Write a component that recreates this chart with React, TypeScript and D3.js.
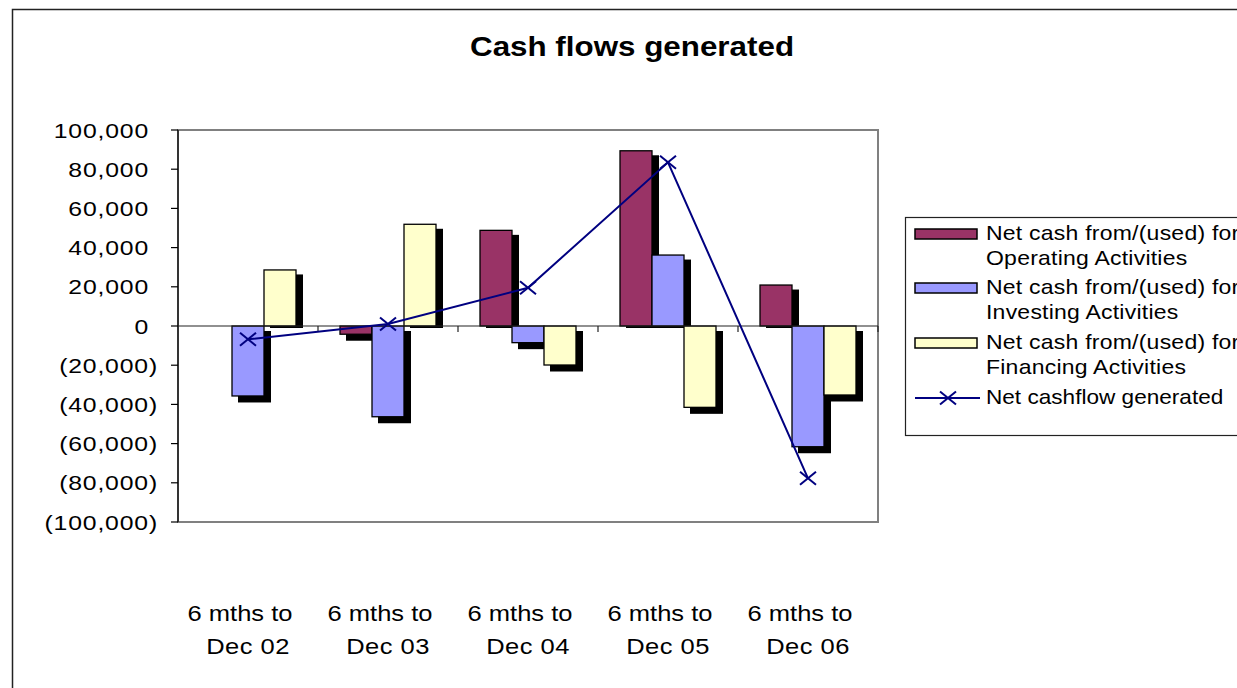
import React from "react";
import * as d3 from "d3";

const categoriesLine1 = ["6 mths to", "6 mths to", "6 mths to", "6 mths to", "6 mths to"];
const categoriesLine2 = ["Dec 02", "Dec 03", "Dec 04", "Dec 05", "Dec 06"];
const operating = [0, -4200, 48800, 89400, 20900];
const investing = [-35700, -46300, -8500, 36200, -61600];
const financing = [28600, 51900, -19900, -41500, -35200];
const netCashflow = [-6800, 1000, 19500, 83500, -77700];
const yTicks = [100000, 80000, 60000, 40000, 20000, 0, -20000, -40000, -60000, -80000, -100000];
const seriesNames = ["Operating", "Investing", "Financing"];
const legendLabels = [
  ["Net cash from/(used) for", "Operating Activities"],
  ["Net cash from/(used) for", "Investing Activities"],
  ["Net cash from/(used) for", "Financing Activities"],
];
const netLabel = "Net cashflow generated";
const title = "Cash flows generated";

const W = 1237;
const H = 688;
const plot = { left: 178, top: 130, right: 878, bottom: 522 };
const colors = ["#993366", "#9999FF", "#FFFFCC"];
const lineColor = "#000080";
const FONT = "'Liberation Sans', Arial, sans-serif";

const fmt = (v: number) => {
  const s = d3.format(",")(Math.abs(v));
  return v < 0 ? `(${s})` : s;
};

function SText({
  x,
  y,
  sx = 1.17,
  size,
  anchor = "start",
  weight = "normal",
  spacing = 0,
  children,
}: {
  x: number;
  y: number;
  sx?: number;
  size: number;
  anchor?: string;
  weight?: string;
  spacing?: number;
  children: React.ReactNode;
}) {
  return (
    <text
      transform={`translate(${x},${y}) scale(${sx},1)`}
      textAnchor={anchor as any}
      fontSize={size}
      fontWeight={weight}
      letterSpacing={spacing}
      fill="#000"
    >
      {children}
    </text>
  );
}

function XMark({ x, y, hw = 8, hh = 6.5 }: { x: number; y: number; hw?: number; hh?: number }) {
  return (
    <g stroke={lineColor} strokeWidth={2}>
      <line x1={x - hw} y1={y - hh} x2={x + hw} y2={y + hh} />
      <line x1={x - hw} y1={y + hh} x2={x + hw} y2={y - hh} />
    </g>
  );
}

export default function App() {
  const x0 = d3
    .scaleBand<number>()
    .domain(d3.range(categoriesLine2.length))
    .range([plot.left, plot.right])
    .paddingInner(0)
    .paddingOuter(0);
  const x1 = d3
    .scaleBand<string>()
    .domain(seriesNames)
    .range([0, x0.bandwidth()])
    .paddingInner(0)
    .paddingOuter(0.6875);
  const y = d3.scaleLinear().domain([-100000, 100000]).range([plot.bottom, plot.top]);

  const seriesData = [operating, investing, financing];
  const bars: { x: number; v: number; yv: number; y0: number; w: number; c: string }[] = [];
  seriesData.forEach((arr, si) => {
    arr.forEach((v, ci) => {
      if (v === 0) return;
      const bx = (x0(ci) as number) + (x1(seriesNames[si]) as number);
      bars.push({ x: bx, v, yv: y(v), y0: y(0), w: x1.bandwidth(), c: colors[si] });
    });
  });

  const line = d3
    .line<number>()
    .x((_, i) => (x0(i) as number) + x0.bandwidth() / 2)
    .y((d) => y(d));

  const legendX = 905;
  const legendY = 217;
  const rowY = [234, 288, 343];

  return (
    <svg
      width={W}
      height={H}
      style={{ position: "absolute", left: 0, top: 0, background: "#fff" }}
      fontFamily={FONT}
    >
      <rect x={0} y={0} width={W} height={H} fill="#fff" />
      {/* outer chart border */}
      <rect x={12.5} y={9.5} width={W + 20} height={H + 20} fill="none" stroke="#222" strokeWidth={1.5} />

      {/* title */}
      <SText x={632} y={56} size={28} sx={1.12} anchor="middle" weight="bold">
        {title}
      </SText>

      {/* plot area border */}
      <rect
        x={plot.left}
        y={plot.top}
        width={plot.right - plot.left}
        height={plot.bottom - plot.top}
        fill="#fff"
        stroke="#808080"
        strokeWidth={2}
      />

      {/* y axis */}
      <line x1={plot.left} y1={plot.top} x2={plot.left} y2={plot.bottom} stroke="#000" strokeWidth={1.2} />
      {yTicks.map((t) => (
        <g key={t}>
          <line x1={plot.left - 7} x2={plot.left} y1={y(t)} y2={y(t)} stroke="#000" strokeWidth={1.2} />
          <SText x={t < 0 ? 158 : 149} y={y(t) + 7.5} size={21} sx={1.18} spacing={0.7} anchor="end">
            {fmt(t)}
          </SText>
        </g>
      ))}

      {/* shadows */}
      {bars.map((b, i) => {
        const top = b.v > 0 ? b.yv + 4.5 : b.y0 + 5;
        const bot = b.v > 0 ? b.y0 + 2 : b.yv + 6.5;
        return <rect key={"s" + i} x={b.x + 6} y={top} width={b.w + 1} height={bot - top} fill="#000" />;
      })}
      {/* bars */}
      {bars.map((b, i) => (
        <rect
          key={"b" + i}
          x={b.x}
          y={Math.min(b.yv, b.y0)}
          width={b.w}
          height={Math.abs(b.yv - b.y0)}
          fill={b.c}
          stroke="#000"
          strokeWidth={1.3}
        />
      ))}

      {/* zero line and category ticks */}
      <line x1={plot.left} x2={plot.right} y1={y(0)} y2={y(0)} stroke="#222" strokeWidth={1.2} />
      {d3.range(categoriesLine2.length).map((i) => (
        <line
          key={"ct" + i}
          x1={(x0(i) as number) + x0.bandwidth()}
          x2={(x0(i) as number) + x0.bandwidth()}
          y1={y(0)}
          y2={y(0) + 6}
          stroke="#222"
          strokeWidth={1.2}
        />
      ))}

      {/* net cashflow line */}
      <path d={line(netCashflow) || ""} fill="none" stroke={lineColor} strokeWidth={2} />
      {netCashflow.map((v, i) => (
        <XMark key={"m" + i} x={(x0(i) as number) + x0.bandwidth() / 2} y={y(v)} />
      ))}

      {/* x labels */}
      {categoriesLine2.map((c, i) => {
        const cx = (x0(i) as number) + x0.bandwidth() / 2;
        return (
          <g key={"xl" + i}>
            <SText x={cx - 8} y={621} size={22} sx={1.16} anchor="middle">
              {categoriesLine1[i]}
            </SText>
            <SText x={cx} y={654} size={22} sx={1.16} spacing={0.4} anchor="middle">
              {c}
            </SText>
          </g>
        );
      })}

      {/* legend */}
      <rect x={legendX + 0.5} y={legendY + 0.5} width={400} height={218} fill="#fff" stroke="#222" strokeWidth={1.2} />
      {legendLabels.map((lbl, i) => (
        <g key={"lg" + i}>
          <rect x={915} y={rowY[i] - 5} width={62} height={10} fill={colors[i]} stroke="#000" strokeWidth={1.5} />
          <SText x={986} y={rowY[i] + 6} size={20} sx={1.15} spacing={0.2}>
            {lbl[0]}
          </SText>
          <SText x={986} y={rowY[i] + 31} size={20} sx={1.15} spacing={0.2}>
            {lbl[1]}
          </SText>
        </g>
      ))}
      <line x1={915} x2={980} y1={398} y2={398} stroke={lineColor} strokeWidth={2} />
      <XMark x={948} y={398} />
      <SText x={986} y={404} size={20} sx={1.13} spacing={0}>
        {netLabel}
      </SText>
    </svg>
  );
}
